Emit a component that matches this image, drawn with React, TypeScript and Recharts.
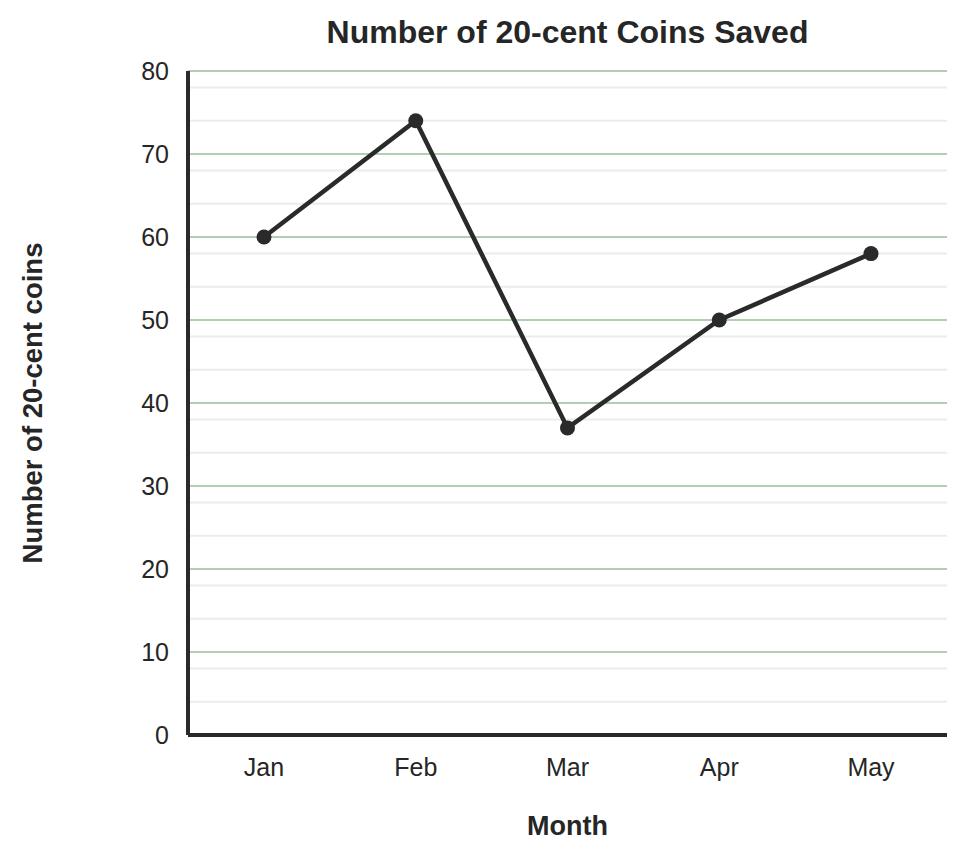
import React from 'react';
import { LineChart, Line, XAxis, YAxis, CartesianGrid, Label } from 'recharts';

const months = ['Jan', 'Feb', 'Mar', 'Apr', 'May'];
const coins = [60, 74, 37, 50, 58];
const yTicks = [0, 10, 20, 30, 40, 50, 60, 70, 80];
const minorValues = [2, 4, 6, 8, 12, 14, 16, 18, 22, 24, 26, 28, 32, 34, 36, 38, 42, 44, 46, 48, 52, 54, 56, 58, 62, 64, 66, 68, 72, 74, 76, 78];

const data = months.map((m, i) => ({ month: m, coins: coins[i] }));

const FONT = 'Arial, "Liberation Sans", Helvetica, sans-serif';

const YLabel = (props: any) => {
  const vb = props.viewBox || {};
  const cy = vb.y + vb.height / 2;
  const cx = 32;
  return (
    <text x={cx} y={cy} transform={`rotate(-90, ${cx}, ${cy})`} textAnchor="middle" dominantBaseline="central"
      fontFamily={FONT} fontWeight="bold" fontSize={27.5} fill="#262626">
      Number of 20-cent coins
    </text>
  );
};

const XLabel = (props: any) => {
  const vb = props.viewBox || {};
  const cx = vb.x + vb.width / 2;
  return (
    <text x={cx} y={826} textAnchor="middle" dominantBaseline="central"
      fontFamily={FONT} fontWeight="bold" fontSize={27} fill="#262626">
      Month
    </text>
  );
};

export default function App() {
  return (
    <div style={{ position: 'absolute', left: 0, top: 0, width: 968, height: 855, background: '#fff' }}>
      <div style={{ position: 'absolute', left: 0, top: 13, width: 968, lineHeight: '38px', textAlign: 'center', paddingLeft: 167, boxSizing: 'border-box', fontFamily: FONT, fontWeight: 'bold', fontSize: 32, color: '#262626' }}>
        Number of 20-cent Coins Saved
      </div>
      <LineChart width={968} height={855} data={data} margin={{ top: 71, right: 21, left: 0, bottom: 0 }}>
        <CartesianGrid horizontal vertical={false} horizontalValues={minorValues} stroke="#e8efe8" strokeWidth={2} />
        <CartesianGrid horizontal vertical={false} horizontalValues={yTicks.filter(v => v > 0)} stroke="#98bf98" strokeWidth={1.5} />
        <XAxis dataKey="month" height={120} padding={{ left: 76, right: 76 }} tickLine={false} tickSize={0} tickMargin={23}
          axisLine={{ stroke: '#2a2a2a', strokeWidth: 4 }}
          tick={{ fontFamily: FONT, fontSize: 25, fill: '#262626' }}>
          <Label content={XLabel} />
        </XAxis>
        <YAxis type="number" domain={[0, 80]} ticks={yTicks} width={188} tickLine={false} tickSize={0} tickMargin={19}
          axisLine={{ stroke: '#2a2a2a', strokeWidth: 4 }}
          tick={{ fontFamily: FONT, fontSize: 25, fill: '#262626' }}>
          <Label content={YLabel} />
        </YAxis>
        <Line type="linear" dataKey="coins" stroke="#2a2a2a" strokeWidth={4.5} isAnimationActive={false}
          dot={{ r: 7.5, fill: '#2a2a2a', stroke: '#2a2a2a', strokeWidth: 0 }} activeDot={false} />
      </LineChart>
    </div>
  );
}
